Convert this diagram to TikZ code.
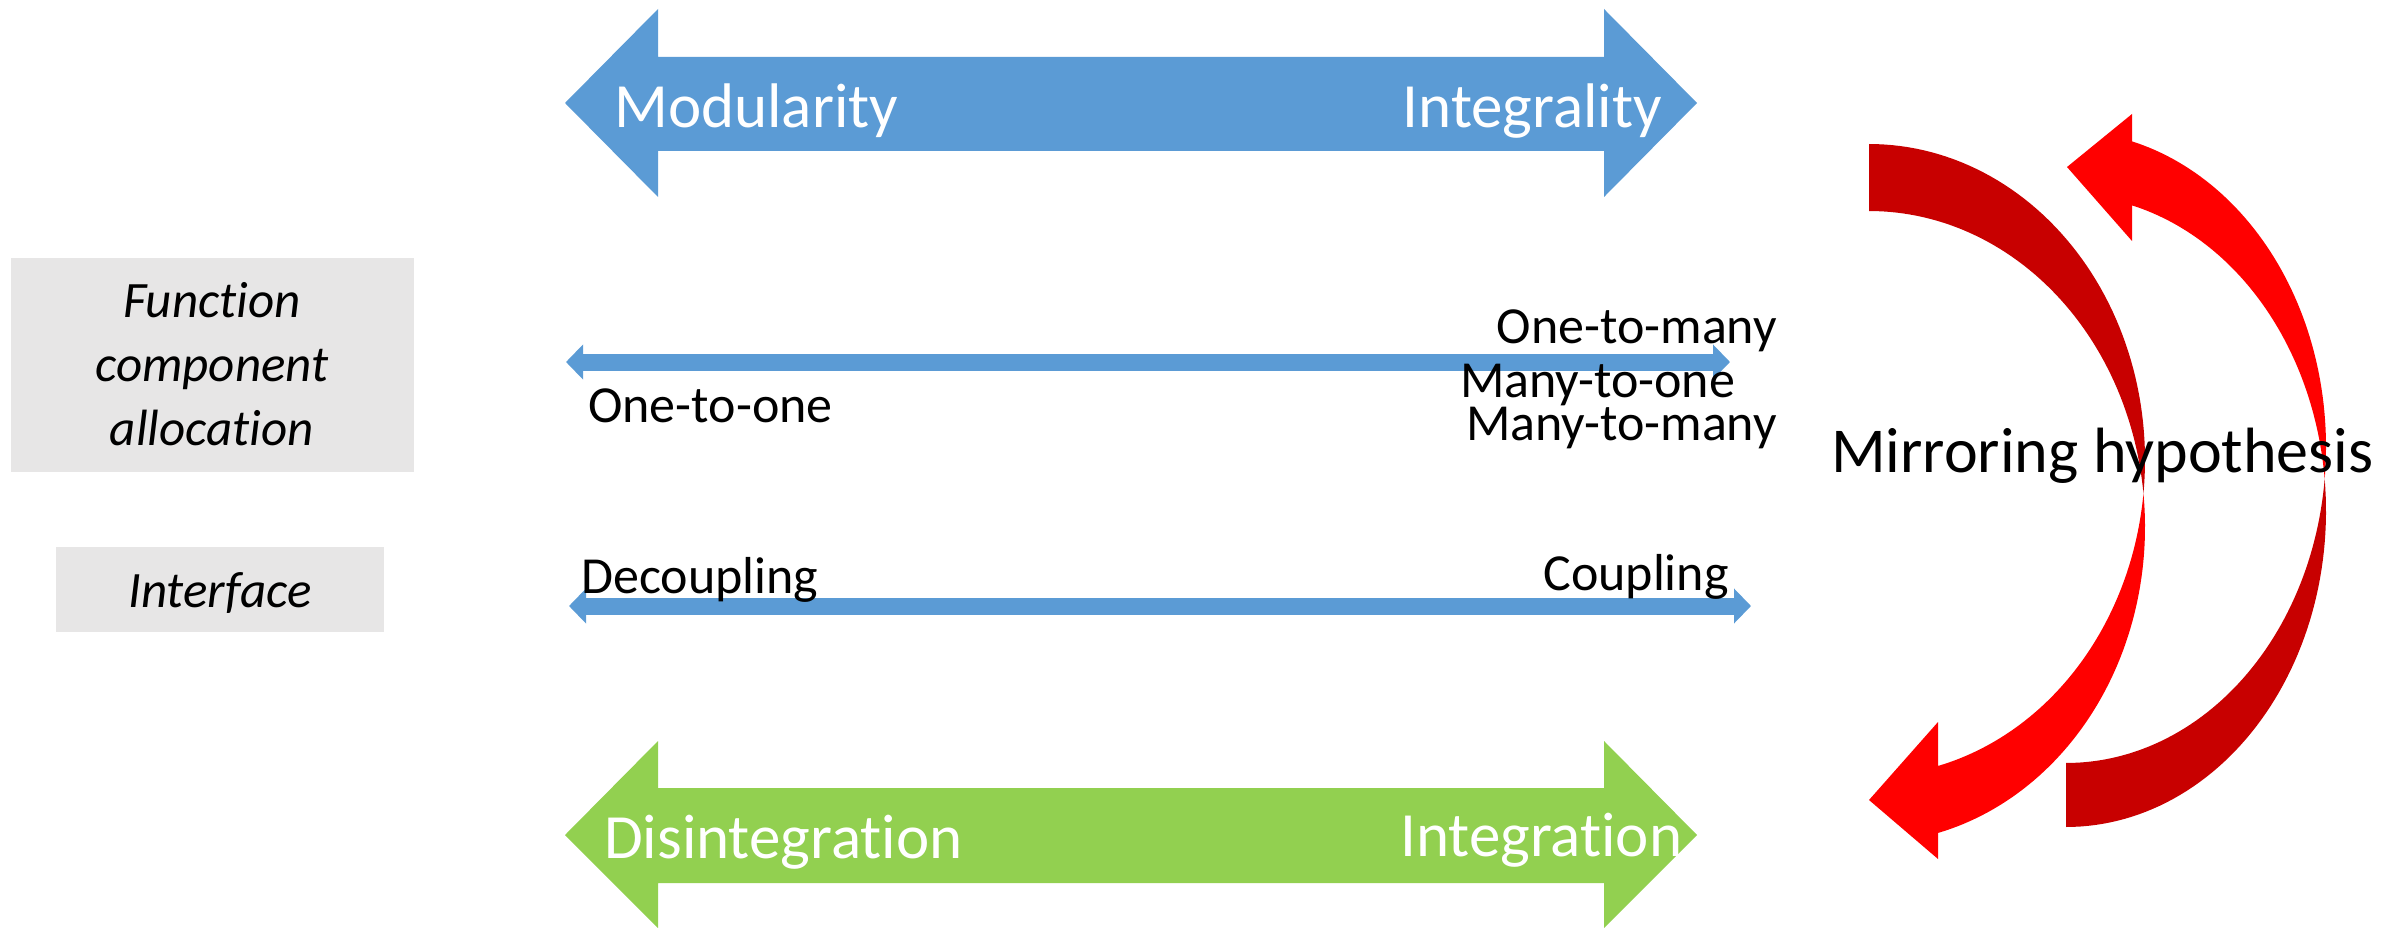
\documentclass[tikz,border=0pt]{standalone}
\usepackage{fontspec}
\setmainfont{Carlito}[Ligatures={NoCommon,NoContextual}]
\usetikzlibrary{arrows.meta}
\definecolor{pblue}{HTML}{5B9BD5}
\definecolor{pgreen}{HTML}{92D050}
\definecolor{pgray}{HTML}{E7E6E6}
\definecolor{dred}{HTML}{C80000}
\definecolor{bred}{HTML}{FF0000}
\begin{document}
\begin{tikzpicture}[x=1pt,y=-1pt,
  bigtxt/.style={text=white, font=\fontsize{63}{75}\selectfont, inner sep=0},
  lbl/.style={text=black, font=\fontsize{52}{62}\selectfont, inner sep=0},
  boxtxt/.style={font=\itshape\fontsize{51}{62}\selectfont, inner sep=0, anchor=base},
  graybox/.style={fill=pgray, inner sep=0, draw=none},
  thinarrow/.style={draw=pblue, line width=17pt,
    arrows={Triangle[length=17pt,width=34pt]-Triangle[length=17pt,width=34pt]}},
  ]
\useasboundingbox (0,0) rectangle (2395,928);

% big double arrows
\fill[pblue] (565,103) -- (658,9) -- (658,57) -- (1604,57) -- (1604,9) -- (1697,103)
  -- (1604,197) -- (1604,151) -- (658,151) -- (658,197) -- cycle;
\fill[pgreen] (565,835) -- (658,741) -- (658,788) -- (1604,788) -- (1604,741) -- (1697,835)
  -- (1604,928) -- (1604,883) -- (658,883) -- (658,928) -- cycle;

\node[bigtxt, anchor=base west] (modu) at (614,128) {Modularity};
\node[bigtxt, anchor=base east] (integ) at (1662,128) {Integrality};
\node[bigtxt, anchor=base west] (disint) at (604,858) {Disintegration};
\node[bigtxt, anchor=base west] (integr) at (1400,856) {Integration};

% left boxes
\node[graybox, minimum width=403pt, minimum height=214pt] (fbox) at (212.5,365) {};
\node[boxtxt] (fl1) at (212,317) {Function};
\node[boxtxt] (fl2) at (212,381) {component};
\node[boxtxt] (fl3) at (212,445) {allocation};
\node[graybox, minimum width=328pt, minimum height=85pt] (ibox) at (220,589.5) {};
\node[boxtxt] (itxt) at (220,607) {Interface};

% thin arrows
\coordinate (f1) at (566,362);
\coordinate (f2) at (1730,362);
\draw[thinarrow] (f1) -- (f2);
\coordinate (i1) at (569,606);
\coordinate (i2) at (1751,606);
\draw[thinarrow] (i1) -- (i2);

\node[lbl, anchor=base west] (oto) at (588,422) {One-to-one};
\node[lbl, anchor=base east] (otm) at (1777,343) {One-to-many};
\node[lbl, anchor=base west] (mto) at (1460,397) {Many-to-one};
\node[lbl, anchor=base east] (mtm) at (1777,440) {Many-to-many};
\node[lbl, anchor=base west] (dec) at (581,593) {Decoupling};
\node[lbl, anchor=base east] (cou) at (1729,590) {Coupling};

% curved arrow A (top tail, bottom head)
\fill[dred] plot[domain=-90:6.09, samples=60] ({1869+276*cos(\x)},{460+316*sin(\x)})
  -- plot[domain=-6.09:-90, samples=60] ({1869+276*cos(\x)},{527+316*sin(\x)}) -- cycle;
\fill[bred] plot[domain=-6.09:75.52, samples=60] ({1869+276*cos(\x)},{527+316*sin(\x)})
  -- (1938,859) -- (1869,800) -- (1938,722)
  -- plot[domain=75.52:6.09, samples=60] ({1869+276*cos(\x)},{460+316*sin(\x)}) -- cycle;

% curved arrow B (bottom tail, top head)
\fill[dred] plot[domain=90:-5.81, samples=60] ({2066+260*cos(\x)},{511+316*sin(\x)})
  -- plot[domain=5.81:90, samples=60] ({2066+260*cos(\x)},{447+316*sin(\x)}) -- cycle;
\fill[bred] plot[domain=5.81:-75.3, samples=60] ({2066+260*cos(\x)},{447+316*sin(\x)})
  -- (2132,114) -- (2067,167) -- (2132,241)
  -- plot[domain=-75.3:-5.81, samples=60] ({2066+260*cos(\x)},{511+316*sin(\x)}) -- cycle;

\node[text=black, font=\fontsize{64}{76}\selectfont, inner sep=0, anchor=base west] (mirr) at (1831,472) {Mirroring hypothesis};
\end{tikzpicture}
\end{document}
